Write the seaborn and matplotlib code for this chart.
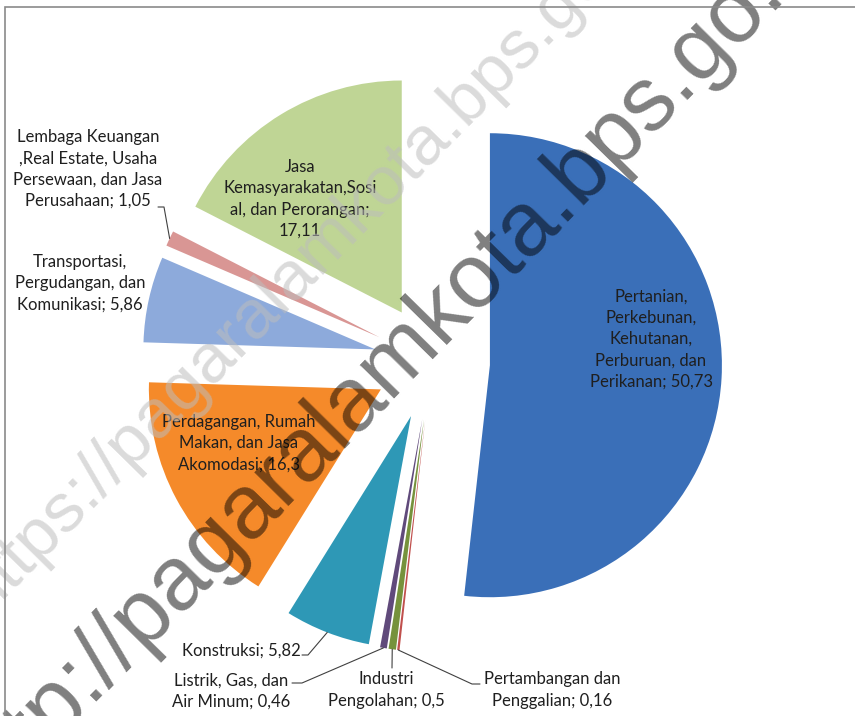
import numpy as np
import matplotlib.pyplot as plt
from matplotlib.patches import Rectangle
import seaborn as sns

# data: sectors in source order (clockwise from 12 o'clock)
sectors = [
    "Pertanian,\nPerkebunan,\nKehutanan,\nPerburuan, dan\nPerikanan",
    "Pertambangan dan\nPenggalian",
    "Industri\nPengolahan",
    "Listrik, Gas, dan\nAir Minum",
    "Konstruksi",
    "Perdagangan, Rumah\nMakan, dan Jasa\nAkomodasi",
    "Transportasi,\nPergudangan, dan\nKomunikasi",
    "Lembaga Keuangan\n,Real Estate, Usaha\nPersewaan, dan Jasa\nPerusahaan",
    "Jasa\nKemasyarakatan,Sosi\nal, dan Perorangan",
]
values = [50.73, 0.16, 0.5, 0.46, 5.82, 16.3, 5.86, 1.05, 17.11]
separators = ["; ", "; ", "; ", "; ", "; ", "; ", "; ", "; ", ";\n"]
colors = ["#3A6FB8", "#C0504D", "#76923C", "#604A7B", "#2E98B6",
          "#F58A2A", "#8DAADB", "#D99694", "#BFD595"]

# layout (pixel coords of the 855x716 canvas, y from top)
W, H = 855, 716
R = 232
pie_center = (432, H - 362)
label_xy = [(651, 339), (552, 690), (386, 690), (231, 691), (241, 651),
            (239, 443), (80, 283), (88, 169), (300, 199)]
# text-side points of leader lines (None = label inside slice)
leader_pts = [None, [(480, 684), (472, 684)], [(392, 668)],
              [(292, 683), (302, 683)], [(302, 655), (308, 655)],
              None, None, [(158, 207), (164, 207)], None]

sns.set_style("white")
plt.rcParams["font.family"] = ["Lato", "DejaVu Sans"]

fig = plt.figure(figsize=(W / 100, H / 100), dpi=100)
ax = fig.add_axes([0, 0, 1, 1])

wedges, _ = ax.pie(values, colors=colors, startangle=90, counterclock=False,
                   explode=[0.25 * R] * len(values), radius=R,
                   center=pie_center, wedgeprops=dict(linewidth=0))

for i, w in enumerate(wedges):
    txt = sectors[i] + separators[i] + f"{values[i]:g}".replace(".", ",")
    x, y = label_xy[i]
    ax.text(x, H - y, txt, ha="center", va="center", multialignment="center",
            fontsize=12, color="#1f1f1f", linespacing=1.4, zorder=5)
    if leader_pts[i] is not None:
        mid = np.deg2rad((w.theta1 + w.theta2) / 2)
        end = (w.center[0] + w.r * np.cos(mid), w.center[1] + w.r * np.sin(mid))
        xs = [p[0] for p in leader_pts[i]] + [end[0]]
        ys = [H - p[1] for p in leader_pts[i]] + [end[1]]
        ax.plot(xs, ys, color="#404040", lw=0.8, zorder=4)

# watermarks
ax.text(310, H - 258, "https://pagaralamkota.bps.go.id", rotation=45.5,
        fontsize=50, family="Liberation Sans", color="#bdbdbd", alpha=0.55,
        ha="center", va="center", zorder=8)
ax.text(393, H - 360, "http://pagaralamkota.bps.go.id", rotation=45.5,
        fontsize=65, family="Liberation Sans", color="black", alpha=0.5,
        ha="center", va="center", zorder=9)

fig.add_artist(Rectangle((5 / W, -0.1), 2, 1.1 - 7 / H, transform=fig.transFigure,
                         fill=False, edgecolor="#8a8a8a", lw=1.2))

ax.set_xlim(0, W)
ax.set_ylim(0, H)
ax.set_aspect("equal")
ax.axis("off")

fig.savefig("out.png", dpi=100)
